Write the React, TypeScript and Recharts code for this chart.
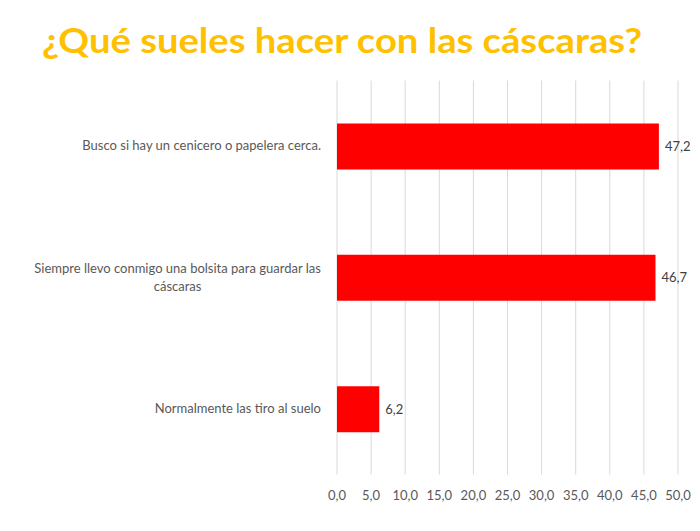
import React from 'react';
import { BarChart, Bar, XAxis, YAxis, CartesianGrid, LabelList } from 'recharts';

const categories = [
  'Busco si hay un cenicero o papelera cerca.',
  'Siempre llevo conmigo una bolsita para guardar las|cáscaras',
  'Normalmente las tiro al suelo',
];
const values = [47.2, 46.7, 6.2];
const xTicks = [0, 5, 10, 15, 20, 25, 30, 35, 40, 45, 50];
const title = '¿Qué sueles hacer con las cáscaras?';

const data = categories.map((name, i) => ({ name, value: values[i] }));

const FONT = 'Lato, "Noto Sans", sans-serif';
const FS = 13;
const fmt = (v: number) => v.toFixed(1).replace('.', ',');

let canvasCtx: CanvasRenderingContext2D | null = null;
const measure = (t: string) => {
  if (!canvasCtx) {
    const c = document.createElement('canvas');
    canvasCtx = c.getContext('2d');
  }
  if (!canvasCtx) return t.length * 6;
  canvasCtx.font = `${FS}px ${FONT}`;
  return canvasCtx.measureText(t).width;
};

const CatTick = (props: any) => {
  const { x, y, payload } = props;
  const lines: string[] = String(payload.value).split('|');
  const right = x;
  if (lines.length === 1) {
    return (
      <text x={right} y={y} dy={4} textAnchor="end" fill="#595959" fontSize={FS} fontFamily={FONT}>
        {lines[0]}
      </text>
    );
  }
  const maxW = Math.max(...lines.map(measure));
  const cx = right - maxW / 2;
  const lh = 18;
  const startY = y - ((lines.length - 1) * lh) / 2;
  return (
    <g>
      {lines.map((l, i) => (
        <text key={i} x={cx} y={startY + i * lh} dy={4} textAnchor="middle" fill="#595959" fontSize={FS} fontFamily={FONT}>
          {l}
        </text>
      ))}
    </g>
  );
};

export default function App() {
  return (
    <div style={{ position: 'absolute', left: 0, top: 0, width: 700, height: 531, background: '#fff' }}>
      <svg width={700} height={80} style={{ position: 'absolute', left: 0, top: 0 }}>
        <text
          x={42}
          y={53}
          textLength={600}
          lengthAdjust="spacingAndGlyphs"
          fill="#FFC000"
          fontSize={34}
          fontWeight="bold"
          fontFamily='Lato, "DejaVu Sans", sans-serif'
        >
          {title}
        </text>
      </svg>
      <div style={{ position: 'absolute', left: 0, top: 0 }}>
        <BarChart
          width={700}
          height={531}
          data={data}
          layout="vertical"
          margin={{ top: 80.5, right: 22, bottom: 26.5, left: 0 }}
          barSize={46}
        >
          <CartesianGrid horizontal={false} vertical={true} stroke="#d9d9d9" />
          <XAxis
            type="number"
            domain={[0, 50]}
            ticks={xTicks}
            tickFormatter={fmt}
            axisLine={false}
            tickLine={false}
            height={30}
            tick={{ fill: '#595959', fontSize: FS, fontFamily: FONT }}
            tickMargin={10}
            interval={0}
          />
          <YAxis
            type="category"
            dataKey="name"
            width={337}
            axisLine={false}
            tickLine={false}
            tick={<CatTick />}
            tickMargin={10}
            interval={0}
          />
          <Bar dataKey="value" fill="#FF0000" isAnimationActive={false}>
            <LabelList
              dataKey="value"
              position="right"
              offset={6}
              formatter={(v: any) => fmt(Number(v))}
              fill="#404040"
              fontSize={FS}
              fontFamily={FONT}
            />
          </Bar>
        </BarChart>
      </div>
    </div>
  );
}
